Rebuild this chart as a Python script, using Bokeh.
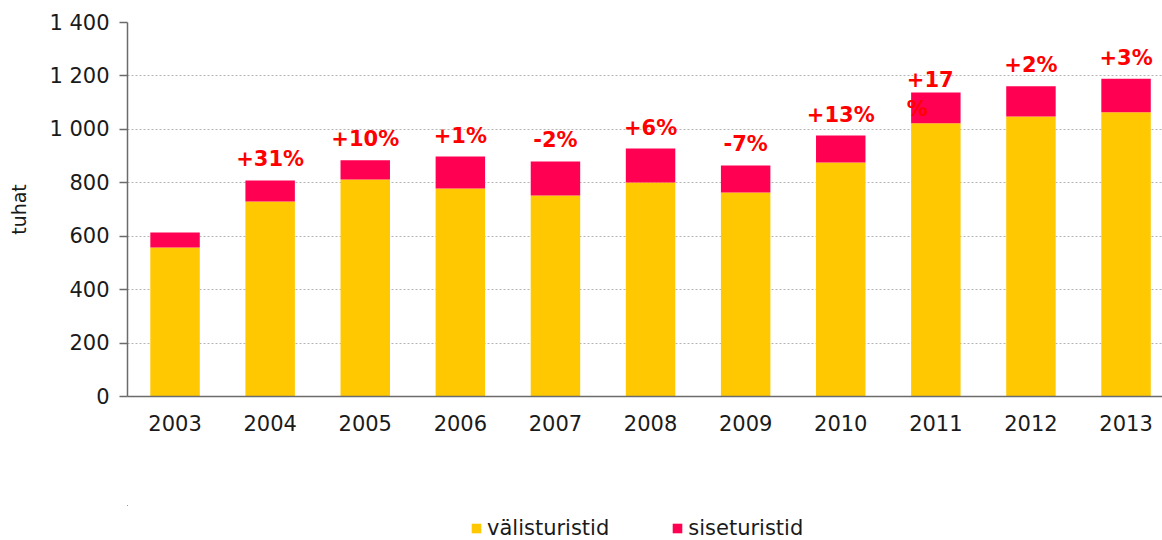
from bokeh.plotting import figure
from bokeh.layouts import column
from bokeh.models import ColumnDataSource, FixedTicker, Range1d, Legend, LegendItem
from bokeh.core.properties import value
from bokeh.embed import file_html
from bokeh.resources import INLINE

# ---- data ----
years = ["2003", "2004", "2005", "2006", "2007", "2008", "2009", "2010", "2011", "2012", "2013"]
valisturistid = [558, 730, 812, 779, 752, 801, 764, 876, 1023, 1048, 1064]
siseturistid = [56, 79, 72, 119, 128, 127, 101, 101, 115, 113, 125]
change_labels = ["", "+31%", "+10%", "+1%", "-2%", "+6%", "-7%", "+13%", "+17\n%", "+2%", "+3%"]
y_ticks = [0, 200, 400, 600, 800, 1000, 1200, 1400]
y_tick_labels = ["0", "200", "400", "600", "800", "1 000", "1 200", "1 400"]
series_names = ["välisturistid", "siseturistid"]
colors = ["#FFC800", "#FF0052"]

FONT = "DejaVu Sans"
W = 1162
H_MAIN, H_LEG = 505, 35
LEFT, RIGHT, TOP = 127, 0, 22
BOTTOM = H_MAIN - 396
BAND = 95.1

idx = list(range(len(years)))
totals = [a + b for a, b in zip(valisturistid, siseturistid)]
src = ColumnDataSource(dict(x=idx, valis=valisturistid, sise=siseturistid, total=totals))

p = figure(width=W, height=H_MAIN, output_backend="svg", toolbar_location=None,
           x_range=Range1d(-0.5, -0.5 + (W - LEFT - RIGHT) / BAND),
           y_range=Range1d(0, 1400),
           min_border_left=LEFT, min_border_right=RIGHT,
           min_border_top=TOP, min_border_bottom=BOTTOM)
p.outline_line_color = None
p.background_fill_color = "white"
p.border_fill_color = "white"

rs = p.vbar_stack(["valis", "sise"], x="x", width=0.52, color=colors,
                  line_color=None, source=src)

# change labels
single = [i for i in idx if change_labels[i] and "\n" not in change_labels[i]]
multi = [i for i in idx if "\n" in change_labels[i]]
s1 = ColumnDataSource(dict(x=[idx[i] for i in single], y=[totals[i] for i in single],
                           t=[change_labels[i] for i in single]))
s2 = ColumnDataSource(dict(x=[idx[i] for i in multi], y=[totals[i] for i in multi],
                           t=[change_labels[i] for i in multi]))
common = dict(text_font=value(FONT), text_font_style="bold", text_font_size="21px",
              text_color="#FF0000", text_baseline="top")
p.text(x="x", y="y", text="t", source=s1, text_align="center", y_offset=-33, **common)
p.text(x="x", y="y", text="t", source=s2, text_align="left", x_offset=-29, y_offset=-24,
       text_line_height=1.2, **common)

# axes
p.yaxis.ticker = FixedTicker(ticks=y_ticks)
p.yaxis.major_label_overrides = {t: l for t, l in zip(y_ticks, y_tick_labels)}
p.yaxis.axis_label = "tuhat"
p.yaxis.axis_label_text_font = FONT
p.yaxis.axis_label_text_font_style = "normal"
p.yaxis.axis_label_text_font_size = "19px"
p.yaxis.axis_label_text_color = "#1a1a1a"
p.yaxis.axis_label_standoff = 16
p.yaxis.major_tick_out = 8
p.yaxis.major_tick_in = 0
p.yaxis.minor_tick_out = 0
p.yaxis.minor_tick_in = 0
p.yaxis.major_label_standoff = 10

p.xaxis.ticker = FixedTicker(ticks=idx)
p.xaxis.major_label_overrides = {i: y for i, y in zip(idx, years)}
p.xaxis.major_tick_out = 0
p.xaxis.major_tick_in = 0
p.xaxis.minor_tick_out = 0
p.xaxis.minor_tick_in = 0
p.xaxis.major_label_standoff = 18

for ax in (p.xaxis, p.yaxis):
    ax.axis_line_color = "#6b6b6b"
    ax.axis_line_width = 1.5
    ax.major_tick_line_color = "#6b6b6b"
    ax.major_tick_line_width = 1.5
    ax.major_label_text_font = FONT
    ax.major_label_text_font_size = "21px"
    ax.major_label_text_color = "#1a1a1a"

p.xgrid.grid_line_color = None
p.ygrid.ticker = FixedTicker(ticks=y_ticks)
p.ygrid.grid_line_color = "#b5b5b5"
p.ygrid.grid_line_dash = "2 2"
p.ygrid.grid_line_width = 1

# ---- legend strip (separate figure so that the legend is not clipped) ----
# the same stacked bars are drawn here but lie entirely outside this strip's
# ranges, so only the legend keys are visible
pl = figure(width=W, height=H_LEG, output_backend="svg", toolbar_location=None,
            x_range=Range1d(1000, 1001), y_range=Range1d(-2000, -1000),
            x_axis_type=None, y_axis_type=None,
            min_border_left=LEFT, min_border_right=0, min_border_top=0, min_border_bottom=0)
pl.outline_line_color = None
pl.grid.visible = False
leg_rs = pl.vbar_stack(["valis", "sise"], x="x", width=0.52, color=colors,
                       line_color=None, source=src)
legend = Legend(items=[LegendItem(label=n, renderers=[r]) for n, r in zip(series_names, leg_rs)],
                orientation="horizontal", location=(470 - LEFT, 0),
                glyph_width=12, glyph_height=12, label_standoff=5, spacing=62,
                padding=0, margin=0, border_line_color=None,
                background_fill_alpha=0,
                label_text_font=FONT, label_text_font_size="21px",
                label_text_color="#1a1a1a", label_height=24)
pl.add_layout(legend)

layout = column(p, pl, spacing=0)
open("out.html", "w").write(file_html(layout, INLINE))
